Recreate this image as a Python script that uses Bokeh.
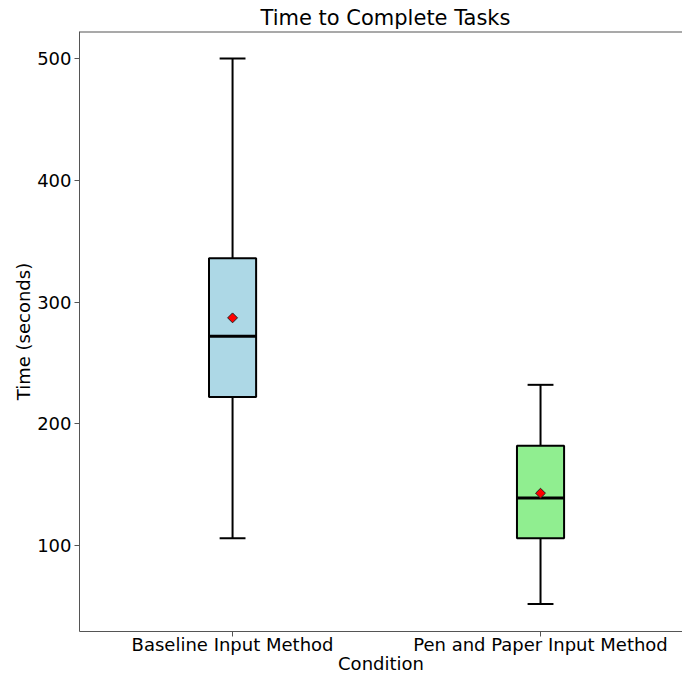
from bokeh.plotting import figure
from bokeh.models import Range1d, FixedTicker, Span
from bokeh.embed import file_html
from bokeh.resources import INLINE

categories = ["Baseline Input Method", "Pen and Paper Input Method"]
positions = [1, 2]
whisker_low = [106, 52]
q1 = [222, 106]
median = [272, 139]
q3 = [336, 182]
whisker_high = [500, 232]
means = [287, 143]
colors = ["#ADD8E6", "#90EE90"]

box_w = 0.153
cap_w = 0.084

W, H = 682, 677
y0, y1 = 29.4, 522.2
p = figure(width=W, height=H, output_backend="svg", toolbar_location=None,
           x_range=Range1d(0.503, 2.461), y_range=Range1d(y0, y1),
           min_border_left=79, min_border_right=0, min_border_top=31,
           min_border_bottom=46)
p.title.text = "Time to Complete Tasks"
p.title.align = "left"
p.title.offset = 181
p.title.text_font = "DejaVu Sans"
p.title.text_font_size = "21px"
p.title.text_font_style = "normal"
p.title.text_color = "#000000"
p.title.standoff = 4

p.grid.visible = False
p.outline_line_color = None
p.background_fill_color = "white"
p.border_fill_color = "white"
p.add_layout(Span(location=y1, dimension="width", line_color="#555555", line_width=2))

for ax in (p.xaxis[0], p.yaxis[0]):
    ax.axis_line_color = "#555555"
    ax.major_tick_line_color = "#555555"
    ax.major_tick_out = 5
    ax.major_tick_in = 0
    ax.minor_tick_line_color = None
    ax.major_label_text_font = "DejaVu Sans"
    ax.major_label_text_font_size = "18px"
    ax.major_label_text_color = "#000000"
    ax.axis_label_text_font = "DejaVu Sans"
    ax.axis_label_text_font_size = "18px"
    ax.axis_label_text_font_style = "normal"
    ax.axis_label_text_color = "#000000"

p.xaxis.ticker = FixedTicker(ticks=positions)
p.xaxis.major_label_overrides = {pos: c for pos, c in zip(positions, categories)}
p.xaxis.axis_label = "Condition"
p.xaxis.major_label_standoff = -3
p.xaxis.axis_label_standoff = -5
p.yaxis.ticker = FixedTicker(ticks=[100, 200, 300, 400, 500])
p.yaxis.axis_label = "Time (seconds)"
p.yaxis.major_label_standoff = 3
p.yaxis.axis_label_standoff = 0

# whiskers
p.segment(x0=positions, y0=q3, x1=positions, y1=whisker_high, line_color="black", line_width=2)
p.segment(x0=positions, y0=q1, x1=positions, y1=whisker_low, line_color="black", line_width=2)
# caps
p.segment(x0=[x - cap_w / 2 for x in positions], y0=whisker_high,
          x1=[x + cap_w / 2 for x in positions], y1=whisker_high, line_color="black", line_width=2)
p.segment(x0=[x - cap_w / 2 for x in positions], y0=whisker_low,
          x1=[x + cap_w / 2 for x in positions], y1=whisker_low, line_color="black", line_width=2)
# boxes
p.vbar(x=positions, width=box_w, bottom=q1, top=q3, fill_color=colors,
       line_color="black", line_width=2)
# medians
p.segment(x0=[x - box_w / 2 for x in positions], y0=median,
          x1=[x + box_w / 2 for x in positions], y1=median, line_color="black", line_width=3)
# means
p.scatter(x=positions, y=means, marker="square", angle=0.785, size=7,
          fill_color="red", line_color="#222222", line_width=1)

open("out.html", "w").write(file_html(p, INLINE))
